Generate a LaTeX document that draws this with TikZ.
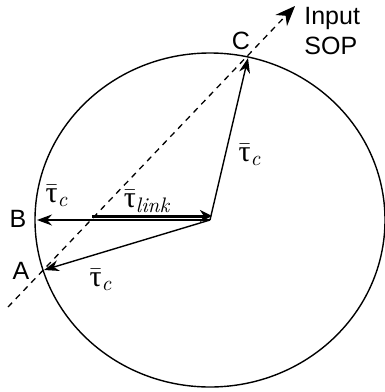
\documentclass[tikz,border=0pt]{standalone}
\usepackage{fontspec}
\usepackage{tikz}
\usetikzlibrary{arrows.meta}
\newfontfamily\labfont{Liberation Sans}
\newfontfamily\taufont{Liberation Serif}
\newcommand{\tauvec}[1]{$\bar{\mbox{\taufont τ}}_{\mathit{#1}}$}

\begin{document}
\begin{tikzpicture}[
  x=0.5pt, y=-0.5pt,
  pt/.style={font=\labfont\fontsize{12.5}{15}\selectfont},
  taulab/.style={font=\fontsize{15}{18}\selectfont, inner sep=0pt},
  vec/.style={-{Stealth[length=7.5pt, width=5.5pt]}, line width=0.7pt},
  sop/.style={-{Stealth[length=10pt, width=8pt]}, dashed, dash pattern=on 3pt off 2.6pt, line width=0.65pt},
  link/.style={-{Stealth[length=6pt, width=6pt]}, line width=1.5pt}
]
  \useasboundingbox (0,0) rectangle (385,392);

  % sphere outline
  \draw[line width=0.7pt] (210,220) ellipse [x radius=87.5pt, y radius=83.5pt];

  \coordinate (O) at (210,220);
  \coordinate (B) at (37,220);
  \coordinate (A) at (44,270);
  \coordinate (C) at (248,58);
  \coordinate (sopbeg) at (8,307);
  \coordinate (sopend) at (295,6);
  \coordinate (linkbeg) at (92,216);
  \coordinate (linkend) at (212,216);

  \draw[sop] (sopbeg) -- (sopend);
  \draw[vec] (O) -- (B);
  \draw[vec] (O) -- (A);
  \draw[vec] (O) -- (C);
  \draw[link] (linkbeg) -- (linkend);

  \node[pt] (labB) at (18,219) {B};
  \node[pt] (labA) at (21,271) {A};
  \node[pt] (labC) at (241,41) {C};
  \node[pt, align=left, anchor=west, inner sep=0pt] (labsop) at (304,31) {Input\\SOP};

  \node[taulab] (tauB) at (57,196) {\tauvec{c}};
  \node[taulab] (tauC) at (250,155) {\tauvec{c}};
  \node[taulab] (tauA) at (101,280) {\tauvec{c}};
  \node[taulab] (tauL) at (147,201) {\tauvec{link}};
\end{tikzpicture}
\end{document}
